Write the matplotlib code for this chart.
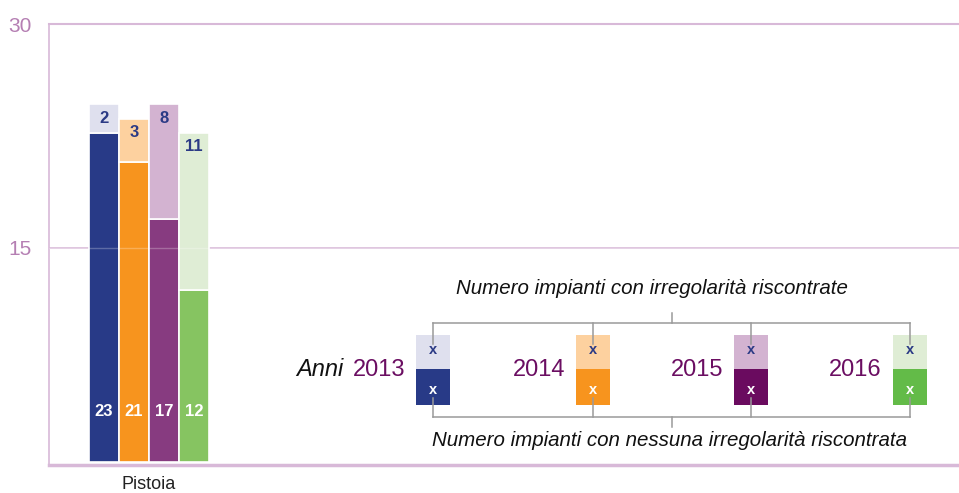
import matplotlib
matplotlib.use("Agg")
import matplotlib.pyplot as plt
from matplotlib.patches import Rectangle

plt.rcParams['font.family'] = ['Liberation Sans', 'DejaVu Sans']

# Impianti controllati in provincia di Pistoia, per anno
province = ['Pistoia']
years = ['2013', '2014', '2015', '2016']
no_irregularities = [23, 21, 17, 12]
with_irregularities = [2, 3, 8, 11]

dark_colors = ['#283a87', '#f7941e', '#873b80', '#86c461']
light_colors = ['#dfe0ee', '#fdd19f', '#d3b3d1', '#dfedd5']
legend_dark = ['#283a87', '#f7941e', '#6a0b5f', '#63bb48']

grid_color = '#d8b9d8'
tick_color = '#b57fb3'
navy = '#2b3a85'
year_color = '#6b0e62'
bracket_color = '#9a9a9a'

W, H = 959, 493
fig = plt.figure(figsize=(W / 100, H / 100), dpi=100)

# area del grafico in pixel: sinistra 48.5, alto 24.4, basso 464.9
ax = fig.add_axes([48.5 / W, (H - 464.9) / H, 1 - 48.5 / W, (464.9 - 24.4) / H])
ymax = 30.6
ax.set_ylim(-0.2, ymax)
ax.set_xlim(-3.35, 27.0)

offsets = [-1.5, -0.5, 0.5, 1.5]
for i, yr in enumerate(years):
    x = offsets[i]
    base = no_irregularities[i]
    top = with_irregularities[i]
    ax.bar(x, base, width=1.0, color=dark_colors[i], edgecolor='white',
           linewidth=1.2, zorder=3)
    ax.bar(x, top, bottom=base, width=1.0, color=light_colors[i],
           edgecolor='white', linewidth=1.2, zorder=3)
    ax.text(x, 3.5, str(base), ha='center', va='center', color='white',
            fontsize=12, fontweight='bold', zorder=4)
    ax.text(x, base + top - 0.95, str(top), ha='center', va='center',
            color=navy, fontsize=12, fontweight='bold', zorder=4)

# griglia e assi
ax.axhline(15, color=grid_color, linewidth=1.2, zorder=1)
ax.axhline(15, color='white', linewidth=1.0, alpha=0.25, zorder=3.5)
ax.axhline(ymax, color=grid_color, linewidth=1.5, zorder=1, clip_on=False)
for side in ['top', 'right']:
    ax.spines[side].set_visible(False)
ax.spines['left'].set_color(grid_color)
ax.spines['left'].set_linewidth(1.2)
ax.spines['bottom'].set_color(grid_color)
ax.spines['bottom'].set_linewidth(2.5)

ax.set_yticks([15, ymax])
ax.set_yticklabels(['15', '30'])
ax.set_xticks([0])
ax.set_xticklabels(province)
ax.tick_params(axis='y', length=0, pad=12.5, labelsize=15, labelcolor=tick_color)
ax.tick_params(axis='x', length=0, pad=8, labelsize=13, labelcolor='#222222')

# legenda disegnata a mano, in coordinate pixel
lg = fig.add_axes([0, 0, 1, 1], facecolor='none')
lg.set_xlim(0, W)
lg.set_ylim(H, 0)
lg.axis('off')

box_left = [416, 576, 734, 893]
box_w = 34
light_top, mid, dark_bot = 335, 369, 405
for i, yr in enumerate(years):
    x0 = box_left[i]
    cx = x0 + box_w / 2
    lg.add_patch(Rectangle((x0, light_top), box_w, mid - light_top,
                           facecolor=light_colors[i], edgecolor='none', zorder=2))
    lg.add_patch(Rectangle((x0, mid), box_w, dark_bot - mid,
                           facecolor=legend_dark[i], edgecolor='none', zorder=2))
    lg.text(cx, 350, 'x', ha='center', va='center', color=navy,
            fontsize=10.5, fontweight='semibold', zorder=4)
    lg.text(cx, 390, 'x', ha='center', va='center', color='white',
            fontsize=10.5, fontweight='bold', zorder=4)
    lg.plot([cx, cx], [323, 344], color=bracket_color, lw=1.1, zorder=3)
    lg.plot([cx, cx], [398, 417], color=bracket_color, lw=1.1, zorder=3)
    lg.text(x0 - 11, 370, yr, ha='right', va='center', color=year_color,
            fontsize=17)

first_cx = box_left[0] + box_w / 2
last_cx = box_left[-1] + box_w / 2
mid_x = (first_cx + last_cx) / 2
lg.plot([first_cx, last_cx], [323, 323], color=bracket_color, lw=1.1, zorder=3)
lg.plot([first_cx, last_cx], [417, 417], color=bracket_color, lw=1.1, zorder=3)
lg.plot([mid_x, mid_x], [313, 323], color=bracket_color, lw=1.1, zorder=3)
lg.plot([mid_x, mid_x], [417, 427], color=bracket_color, lw=1.1, zorder=3)

lg.text(296, 370, 'Anni', ha='left', va='center', style='italic',
        color='#111111', fontsize=17)
lg.text(652, 289, 'Numero impianti con irregolarità riscontrate',
        ha='center', va='center', style='italic', color='#111111', fontsize=14.8)
lg.text(670, 441, 'Numero impianti con nessuna irregolarità riscontrata',
        ha='center', va='center', style='italic', color='#111111', fontsize=14.8)

fig.savefig('out.png', dpi=100)
